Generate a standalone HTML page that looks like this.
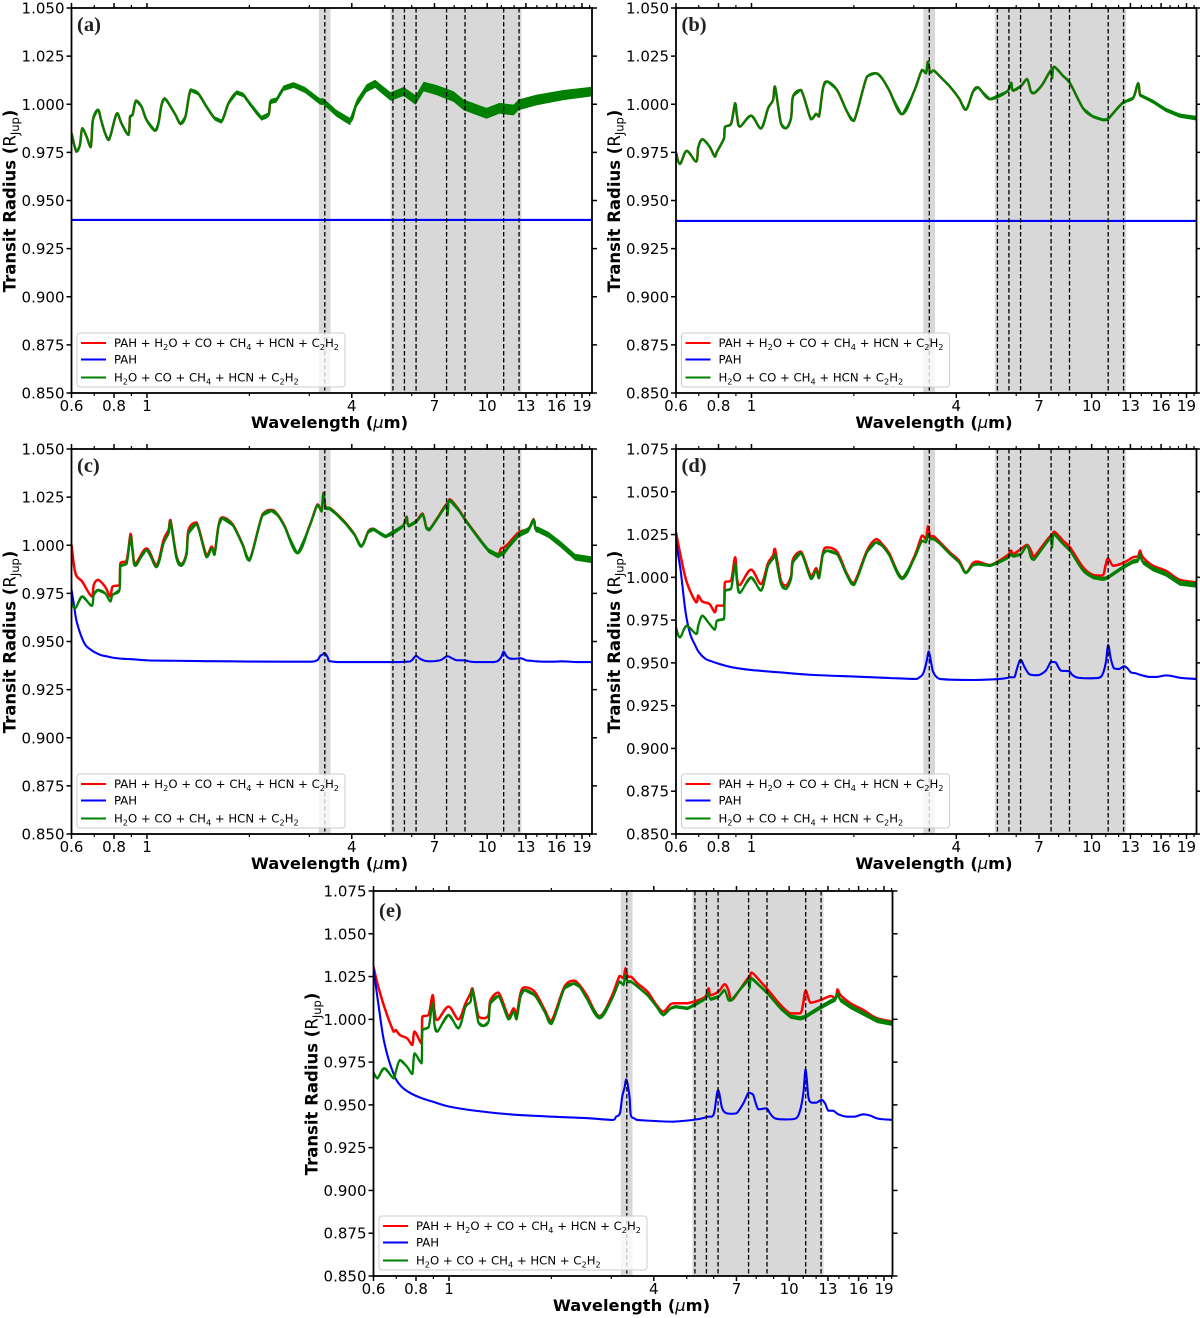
<!DOCTYPE html>
<html lang="en">
<head>
<meta charset="utf-8">
<title>Transit radius spectra panels</title>
<style>
html,body{margin:0;padding:0;background:#fff;}
svg{display:block;}
text{font-family:"DejaVu Sans","Liberation Sans",sans-serif;fill:#000;}
</style>
</head>
<body>
<svg id="figure" xmlns="http://www.w3.org/2000/svg" width="1200" height="1318" viewBox="0 0 1200 1318"></svg>
<script>
// ---------- shared axis data ----------
const xTickValues = [0.6, 0.8, 1, 4, 7, 10, 13, 16, 19];
const xTickLabels = ["0.6", "0.8", "1", "4", "7", "10", "13", "16", "19"];
const xMinorTicks = [0.7, 0.9, 2, 3, 5, 6, 8, 9, 11, 12, 14, 15, 17, 18, 20];
const yTicksShort = [0.85, 0.875, 0.9, 0.925, 0.95, 0.975, 1.0, 1.025, 1.05];
const yTicksTall = [0.85, 0.875, 0.9, 0.925, 0.95, 0.975, 1.0, 1.025, 1.05, 1.075];
const featureLines = [3.3, 5.22, 5.64, 6.1, 7.49, 8.48, 11.0, 12.2];
const shadedBands = [[3.17, 3.43], [5.13, 12.4]];

// ---------- wavelength grids (micron) ----------
const waveSpectrum = [.6,.616,.645,.687,.697,.717,.752,.779,.791,.829,
 .834,.869,.893,.905,.923,.994,1.063,1.115,1.153,1.168,
 1.216,1.258,1.301,1.319,1.392,1.488,1.54,1.571,1.614,1.658,
 1.773,1.897,1.988,2.17,2.306,2.4,2.517,2.746,2.977,3.142,
 3.228,3.27,3.32,3.4,3.546,3.79,4.03,4.22,4.43,4.58,
 4.97,5.57,5.72,5.80,6.12,6.37,6.54,6.68,7.05,7.49,
 7.54,7.64,8.12,8.51,9.29,9.93,10.6,10.8,11.0,11.37,
 12.16,13.0,13.45,13.63,13.9,14.87,16.2,17.8,20];
const wavePAH = [.6,.61,.62,.64,.66,.68,.7,.73,.76,.8,.85,.9,1,1.2,1.5,2,2.5,3,3.07,3.15,
 3.2,3.25,3.29,3.36,3.39,3.47,3.55,3.8,4.5,5.31,5.7,5.85,5.95,6.1,6.27,6.46,6.7,6.91,7.23,7.48,
 7.6,7.73,8.0,8.45,8.65,8.95,9.6,10.3,10.6,10.83,11,11.2,11.44,11.83,12.24,12.53,12.81,13.25,13.7,14.5,
 15.3,16.2,17,17.95,20];
const waveA = [.6,.62,.635,.645,.664,.683,.693,.717,.732,.752,.772,.804,.818,.84,.88,.89,.905,.926,.961,.994,
 1.052,1.077,1.10,1.125,1.168,1.208,1.25,1.292,1.337,1.406,1.488,1.571,1.647,1.726,1.822,1.909,1.988,2.156,2.26,2.29,
 2.383,2.5,2.674,2.89,3.195,3.27,3.57,3.91,4.09,4.37,4.63,5.14,5.61,6.08,6.42,7,7.85,8.4,9.8,10.7,
 11.76,12.16,13.7,16.45,20];
const waveFlat = [0.6, 20];
const waveSpread = [.6, 1, 2, 3, 5, 8, 13, 20];

// ---------- panel (a) ----------
const greenA = [.985,.9754,.9789,.9875,.9832,.9777,.9919,.9971,.9919,.985,.9815,.9927,.9953,.9901,.9841,.9936,.9945,1.0019,.9988,.9919,
 .9863,.9901,.9997,1.003,.9988,.9945,.9898,.9936,1.0074,1.0057,.9988,.9927,.991,1.0005,1.0061,1.0048,1.0005,.9927,.9945,1.0014,
 1.0022,1.0083,1.01,1.0074,1.0014,1.0014,.9953,.991,1.0005,1.0083,1.0106,1.004,1.0066,1.0022,1.0092,1.0074,1.004,.9997,.9953,.9979,
 .997,.9997,1.0022,1.0048,1.0066];
const redA = greenA;
const blueA = [.9399, .9399];
const spreadA = [.0008,.0009,.0012,.0016,.0022,.0028,.0028,.0025];

// ---------- panel (b) ----------
const greenB = [.9749,.969,.9758,.9702,.9777,.9818,.978,.9728,.9754,.9824,
 .9881,.9898,1.0005,.9936,.9884,.9941,.9874,.9979,1.0022,1.0092,
 .9901,.9875,.9927,1.004,1.0074,.9922,.995,.9936,1.0083,1.0118,
 1.0074,.9962,.9914,1.0144,1.0161,1.0135,1.0074,.9948,1.0066,1.0178,
 1.0161,1.0221,1.0164,1.0175,1.0144,1.0092,1.0031,.9971,1.0066,1.0088,
 1.0026,1.0066,1.0112,1.0071,1.0095,1.0131,1.0066,1.0057,1.01,1.0178,
 1.0135,1.0195,1.0147,1.0109,.9979,.9936,.9919,.9919,.9924,.9953,
 1.0009,1.0031,1.0109,1.0048,1.004,1.0014,.9971,.9941,.9927];
const redB = greenB;
const blueB = [.9394, .9394];
const spreadB = [.0005,.0005,.0005,.0006,.0007,.0007,.0009,.0012];

// ---------- panel (c) ----------
const greenC = [.9699,.9673,.9734,.9685,.9742,.9768,.9751,.9708,.9742,.9768,
 .9893,.9903,1.0045,.9967,.9893,.9976,.9886,1.001,1.0062,1.0123,
 .9933,.9893,.995,1.0062,1.0111,.9938,.9984,.995,1.0097,1.014,
 1.0106,1.0002,.992,1.0157,1.018,1.0157,1.0097,.9958,1.0097,1.0209,
 1.0175,1.027,1.0192,1.0192,1.0166,1.0114,1.0054,.9993,1.0071,1.0083,
 1.0045,1.0097,1.0145,1.01,1.0123,1.0161,1.0088,1.008,1.014,1.0209,
 1.0157,1.0235,1.0183,1.0128,1.0036,.9972,.9945,.9955,.9958,.9993,
 1.0054,1.008,1.0131,1.0083,1.008,1.0054,1.0002,.9938,.9924];
const redC = [1.0002,.9855,.9811,.9734,.9794,.982,.9785,.9734,.9785,.9794,
 .9907,.9919,1.0059,.9976,.9907,.9984,.9898,1.0028,1.008,1.0131,
 .9945,.9903,.9958,1.008,1.0118,.9948,.9993,.9957,1.0102,1.0145,
 1.011,1.0006,.9924,1.016,1.0184,1.016,1.0101,.9962,1.01,1.0212,
 1.0178,1.0273,1.0195,1.0195,1.0169,1.0117,1.0057,.9996,1.0074,1.0086,
 1.0048,1.01,1.0148,1.0104,1.0128,1.0165,1.0092,1.0084,1.0144,1.0213,
 1.0161,1.0239,1.0187,1.0132,1.004,.9976,.9955,.9984,.9988,1.001,
 1.0066,1.0086,1.0134,1.0086,1.0083,1.0057,1.0005,.9941,.9927];
const blueC = [.977,.969,.961,.953,.948,.946,.9445,.943,.9423,.9415,.941,.9408,.9402,.94,.9398,.9396,.9395,.9395,.9397,.9405,
 .9425,.9432,.944,.942,.94,.9396,.9394,.9393,.9393,.9393,.9395,.9396,.9405,.9425,.941,.94,.9397,.9398,.9405,.9423,
 .9422,.9415,.9403,.9402,.9398,.9394,.9393,.9393,.94,.942,.9448,.9425,.9412,.941,.9413,.941,.9402,.94,.9397,.9395,
 .9395,.9397,.9396,.9393,.9393];
const spreadC = [.0007,.0008,.0008,.0009,.001,.001,.0015,.0018];

// ---------- panel (d) ----------
const greenD = [.9708,.9649,.9718,.9669,.9718,.9776,.9727,.9694,.9747,.9757,
 .9922,.9932,1.0078,.9971,.9909,1.0,.9922,1.0068,1.0107,1.0136,
 .9961,.9932,.999,1.0088,1.0142,.999,1.0039,.9994,1.0136,1.0156,
 1.0136,1.001,.9955,1.0146,1.0205,1.0185,1.0131,.999,1.0107,1.0214,
 1.0205,1.0253,1.0224,1.0224,1.0195,1.0136,1.0088,1.0025,1.0072,1.0078,
 1.0068,1.0111,1.0136,1.0123,1.0136,1.0185,1.0117,1.0103,1.0166,1.0234,
 1.0175,1.0253,1.0195,1.0156,1.0039,1.0,.999,.9994,1.0,1.002,
 1.0059,1.0092,1.0098,1.0136,1.0088,1.0049,1.002,.9967,.9955];
const redD = [1.0263,1.0146,.9971,.9854,.9893,.9858,.9844,.9796,.9835,.9835,
 .9971,.9981,1.0117,.999,.9955,1.0045,.9961,1.0084,1.0127,1.0166,
 .9981,.9952,1.0006,1.0107,1.015,1.0006,1.0053,1.001,1.0146,1.0175,
 1.015,1.002,.9967,1.0156,1.0223,1.0195,1.0142,1.0,1.0117,1.0244,
 1.0224,1.0298,1.024,1.024,1.0205,1.0146,1.0098,1.0029,1.0084,1.0092,
 1.0072,1.0127,1.0156,1.0136,1.0166,1.019,1.0156,1.0123,1.0181,1.0244,
 1.0205,1.0267,1.0214,1.0175,1.0059,1.0014,1.001,1.0068,1.0111,1.0068,
 1.0084,1.0117,1.0123,1.0156,1.0117,1.0068,1.0039,.9986,.9971];
const blueD = [1.022,1.012,1.003,.9796,.9669,.961,.9562,.9525,.951,.9495,.948,.947,.9458,.9445,.943,.942,.9412,.9406,.9412,.943,
 .9464,.952,.9566,.9475,.9445,.9416,.9406,.9402,.94,.9406,.9416,.9416,.9464,.9519,.9474,.9435,.9428,.9429,.9455,.9507,
 .9505,.9503,.9455,.9451,.9429,.9414,.941,.9412,.9435,.9503,.9605,.9523,.9468,.9464,.948,.9468,.9445,.9439,.9429,.9418,
 .9418,.9427,.9422,.9412,.9406];
const spreadD = [.0007,.0008,.0008,.0008,.0009,.001,.0013,.0016];

// ---------- panel (e) ----------
const greenE = [.969,.9655,.9714,.9655,.9694,.9762,.9723,.968,.9801,.9743,
 .9938,.9953,1.0094,.9967,.9928,1.0025,.9947,1.0074,1.0103,1.0175,
 .9981,.9961,.9986,1.0094,1.0136,1.0,1.0045,1.0,1.0132,1.0171,
 1.0142,1.0045,.9973,1.0181,1.021,1.0191,1.0123,1.0006,1.0113,1.022,
 1.0201,1.0259,1.022,1.022,1.0191,1.0142,1.0074,1.0025,1.0064,1.0074,
 1.0064,1.0117,1.0152,1.0117,1.0132,1.0171,1.0113,1.0113,1.0171,1.023,
 1.0181,1.024,1.0191,1.0152,1.0064,1.0016,1.0006,1.001,1.0016,1.0035,
 1.007,1.0103,1.0117,1.0152,1.0113,1.0074,1.0035,.9992,.9973];
const redE = [1.0308,1.021,1.0074,.9928,.9938,.9908,.9889,.985,.9928,.986,
 1.0016,1.0025,1.0142,1.0045,.9996,1.0074,1.0,1.0094,1.0152,1.0181,
 1.0016,1.0006,1.0025,1.0113,1.0156,1.0019,1.0064,1.0025,1.0152,1.0187,
 1.0162,1.0058,.9992,1.0191,1.0226,1.0201,1.0142,1.0019,1.0132,1.0253,
 1.024,1.0298,1.0249,1.0249,1.021,1.0162,1.0084,1.0045,1.0088,1.0094,
 1.0094,1.0129,1.0181,1.0142,1.0162,1.0205,1.0171,1.0113,1.0171,1.0245,
 1.022,1.0273,1.022,1.0175,1.0084,1.0035,1.0035,1.0084,1.0168,1.0097,
 1.0113,1.0136,1.0123,1.0175,1.0142,1.0094,1.0055,1.0006,.9986];
const blueE = [1.03,1.019,1.009,.99,.9785,.9705,.9645,.96,.9575,.9552,.9532,.9517,.949,.9465,.9445,.9431,.9423,.9412,.9431,.945,
 .9548,.96,.9649,.9548,.9441,.9421,.9412,.9408,.9402,.9416,.9431,.9431,.946,.9587,.948,.9451,.9448,.9451,.9509,.9571,
 .9568,.9558,.9474,.948,.9451,.9421,.9415,.9421,.947,.9568,.9708,.9548,.9513,.9513,.9529,.9509,.9466,.9466,.9445,.9431,
 .9431,.9445,.9437,.9419,.9412];
const spreadE = [.0007,.0008,.0008,.0009,.001,.0011,.0014,.0014];

// ---------- legend text ----------
const legendRedText = [["PAH + H",0],["2",1],["O + CO + CH",0],["4",1],[" + HCN + C",0],["2",1],["H",0],["2",1]];
const legendBlueText = [["PAH",0]];
const legendGreenText = [["H",0],["2",1],["O + CO + CH",0],["4",1],[" + HCN + C",0],["2",1],["H",0],["2",1]];

// ---------- layout ----------
const X_MIN = 0.6, X_MAX = 20, TICK_X_MAX = 20.4, Y_MIN = 0.85, PLOT_W = 521, PLOT_H = 385;
const panels = [
 {key:"a",x0:71.5, y0:8,  fw:520.5,yMax:1.05, yTicks:yTicksShort,wave:waveA,       red:redA,green:greenA,spread:spreadA,bw:waveFlat,blue:blueA,lab:23},
 {key:"b",x0:676,  y0:8,  fw:520.5,yMax:1.05, yTicks:yTicksShort,wave:waveSpectrum,red:redB,green:greenB,spread:spreadB,bw:waveFlat,blue:blueB,lab:23},
 {key:"c",x0:71.5, y0:449,fw:520.5,yMax:1.05, yTicks:yTicksShort,wave:waveSpectrum,red:redC,green:greenC,spread:spreadC,bw:wavePAH,blue:blueC,lab:23},
 {key:"d",x0:676,  y0:449,fw:520.5,yMax:1.075,yTicks:yTicksTall, wave:waveSpectrum,red:redD,green:greenD,spread:spreadD,bw:wavePAH,blue:blueD,lab:23},
 {key:"e",x0:373.5,y0:891,fw:519,  yMax:1.075,yTicks:yTicksTall, wave:waveSpectrum,red:redE,green:greenE,spread:spreadE,bw:wavePAH,blue:blueE,lab:26}
];

const NS = "http://www.w3.org/2000/svg";
const root = document.getElementById("figure");
function make(parent, tag, props){
  const el = document.createElementNS(NS, tag);
  for (const k in props) el.setAttribute(k, props[k]);
  parent.appendChild(el);
  return el;
}
function xScale(p, w){ return p.x0 + PLOT_W * Math.log(w / X_MIN) / Math.log(X_MAX / X_MIN); }
function xTickScale(p, w){ return p.x0 + PLOT_W * Math.log(w / X_MIN) / Math.log(TICK_X_MAX / X_MIN); }
function yScale(p, r){ return p.y0 + PLOT_H * (p.yMax - r) / (p.yMax - Y_MIN); }
function spreadAt(p, w){
  for (let i = 1; i < waveSpread.length; i++){
    if (w <= waveSpread[i]){
      const t = Math.log(w / waveSpread[i-1]) / Math.log(waveSpread[i] / waveSpread[i-1]);
      return p.spread[i-1] + t * (p.spread[i] - p.spread[i-1]);
    }
  }
  return p.spread[p.spread.length - 1];
}
function clampTo(v, a, b){ return Math.max(Math.min(a, b), Math.min(Math.max(a, b), v)); }
function curvePath(p, waves, vals){
  const pts = waves.map((w, i) => [xScale(p, w), yScale(p, vals[i])]);
  let d = "M" + pts[0][0].toFixed(2) + " " + pts[0][1].toFixed(2);
  for (let i = 0; i < pts.length - 1; i++){
    const a = pts[Math.max(i-1, 0)], b = pts[i], c = pts[i+1], e = pts[Math.min(i+2, pts.length-1)];
    const c1x = clampTo(b[0] + (c[0]-a[0])/6, b[0], c[0]);
    const c1y = clampTo(b[1] + (c[1]-a[1])/6, b[1], c[1]);
    const c2x = clampTo(c[0] - (e[0]-b[0])/6, b[0], c[0]);
    const c2y = clampTo(c[1] - (e[1]-b[1])/6, b[1], c[1]);
    d += "C" + c1x.toFixed(2) + " " + c1y.toFixed(2) + " " + c2x.toFixed(2) + " " + c2y.toFixed(2) + " " + c[0].toFixed(2) + " " + c[1].toFixed(2);
  }
  return d;
}
function richText(parent, x, y, segs, size){
  const t = make(parent, "text", {x:x, y:y, "font-size":size});
  let shifted = false;
  segs.forEach(s => {
    const sp = make(t, "tspan", {});
    sp.textContent = s[0];
    if (s[1] && !shifted){ sp.setAttribute("dy", size * 0.27); sp.setAttribute("font-size", size * 0.7); shifted = true; }
    else if (!s[1] && shifted){ sp.setAttribute("dy", -size * 0.27); shifted = false; }
  });
  return t;
}
const defs = make(root, "defs", {});

panels.forEach(p => {
  const g = make(root, "g", {});
  
  
  const yTop = p.y0, yBot = p.y0 + PLOT_H, xL = p.x0, xR = p.x0 + p.fw;

  const clip = make(defs, "clipPath", {id:"clip-" + p.key});
  make(clip, "rect", {x:xL, y:yTop, width:p.fw, height:PLOT_H});
  const plot = make(g, "g", {"clip-path":"url(#clip-" + p.key + ")"});

  // shaded PAH regions
  shadedBands.forEach(b => {
    const r = make(plot, "rect", {x:xScale(p,b[0]), y:yTop, width:xScale(p,b[1])-xScale(p,b[0]), height:PLOT_H, fill:"#d8d8d8"});
    
    
  });

  // red series
  const red = make(plot, "path", {d:curvePath(p,p.wave,p.red), fill:"none", stroke:"#ff0000", "stroke-width":2.5, "stroke-linejoin":"round"});
  
  

  // blue series
  const blue = make(plot, "path", {d:curvePath(p,p.bw,p.blue), fill:"none", stroke:"#0000ff", "stroke-width":2.1, "stroke-linejoin":"round"});
  
  

  // green noise band and line
  const upper = p.wave.map((w,i) => xScale(p,w).toFixed(2)+","+yScale(p,p.green[i]+spreadAt(p,w)).toFixed(2));
  const lower = p.wave.map((w,i) => xScale(p,w).toFixed(2)+","+yScale(p,p.green[i]-spreadAt(p,w)).toFixed(2)).reverse();
  const band = make(plot, "polygon", {points:upper.concat(lower).join(" "), fill:"#008000"});
  
  
  const green = make(plot, "path", {d:curvePath(p,p.wave,p.green), fill:"none", stroke:"#008000", "stroke-width":2.3, "stroke-linejoin":"round"});
  
  

  // dashed feature lines
  featureLines.forEach(w => {
    const l = make(plot, "line", {x1:xScale(p,w), x2:xScale(p,w), y1:yTop, y2:yBot, stroke:"#000", "stroke-width":1.3, "stroke-dasharray":"4.5 2.5"});
    
    
  });

  // axes frame
  const frame = make(g, "rect", {x:xL, y:yTop, width:p.fw, height:PLOT_H, fill:"none", stroke:"#000", "stroke-width":1.8});
  
  

  // y ticks
  p.yTicks.forEach(v => {
    const y = yScale(p, v);
    make(g, "line", {x1:xL-5, x2:xL, y1:y, y2:y, stroke:"#000", "stroke-width":1.5});
    make(g, "line", {x1:xR, x2:xR+5, y1:y, y2:y, stroke:"#000", "stroke-width":1.5});
    const t = make(g, "text", {x:xL-7, y:y+5.5, "font-size":15, "text-anchor":"end"});
    t.textContent = v.toFixed(3);
    
    
  });

  // x ticks
  xTickValues.forEach((v, i) => {
    const x = xTickScale(p, v);
    make(g, "line", {x1:x, x2:x, y1:yBot, y2:yBot+5, stroke:"#000", "stroke-width":1.5});
    make(g, "line", {x1:x, x2:x, y1:yTop-5, y2:yTop, stroke:"#000", "stroke-width":1.5});
    const t = make(g, "text", {x:x, y:yBot+18, "font-size":15, "text-anchor":"middle"});
    t.textContent = xTickLabels[i];
    
    
  });
  xMinorTicks.forEach(v => {
    const x = xTickScale(p, v);
    make(g, "line", {x1:x, x2:x, y1:yBot, y2:yBot+3, stroke:"#000", "stroke-width":1.2});
    make(g, "line", {x1:x, x2:x, y1:yTop-3, y2:yTop, stroke:"#000", "stroke-width":1.2});
  });

  // x axis title
  const xt = make(g, "text", {x:xL+258, y:yBot+35, "font-size":16.3, "font-weight":"bold", "text-anchor":"middle"});
  
  
  const xt1 = make(xt, "tspan", {}); xt1.textContent = "Wavelength (";
  const xt2 = make(xt, "tspan", {"font-style":"italic","font-weight":"normal"}); xt2.textContent = "\u03BC";
  const xt3 = make(xt, "tspan", {}); xt3.textContent = "m)";

  // y axis title
  const cy = yTop + 193, bx = xL - 56;
  const yt = make(g, "text", {x:bx, y:cy, "font-size":16.5, "font-weight":"bold", "text-anchor":"middle", transform:"rotate(-90 "+bx+" "+cy+")"});
  
  
  const yt1 = make(yt, "tspan", {}); yt1.textContent = "Transit Radius (";
  const yt2 = make(yt, "tspan", {"font-weight":"normal"}); yt2.textContent = "R";
  const yt3 = make(yt, "tspan", {"font-weight":"normal","font-size":11.5,dy:3.5}); yt3.textContent = "Jup";
  const yt4 = make(yt, "tspan", {dy:-3.5}); yt4.textContent = ")";

  // panel letter
  const letter = make(g, "text", {x:xL+5.5, y:yTop+p.lab, "font-size":20.5, "font-weight":"bold"});
  letter.setAttribute("style", 'font-family:"Liberation Serif",serif;fill:#222');
  letter.textContent = "(" + p.key + ")";
  
  

  // legend
  const lg = make(g, "g", {});
  
  
  const lx = xL + 5.5, ly = yBot - 60;
  make(lg, "rect", {x:lx, y:ly, width:268, height:54, rx:3, fill:"#fff", "fill-opacity":0.8, stroke:"#ccc", "stroke-width":1});
  const rows = [["#ff0000", legendRedText, 10], ["#0000ff", legendBlueText, 26.5], ["#008000", legendGreenText, 44.5]];
  rows.forEach(r => {
    const entry = make(lg, "g", {});
    
    
    make(entry, "line", {x1:lx+4, x2:lx+29, y1:ly+r[2], y2:ly+r[2], stroke:r[0], "stroke-width":2});
    richText(entry, lx+37, ly+r[2]+4, r[1], 11.7);
  });
});
</script>
</body>
</html>
